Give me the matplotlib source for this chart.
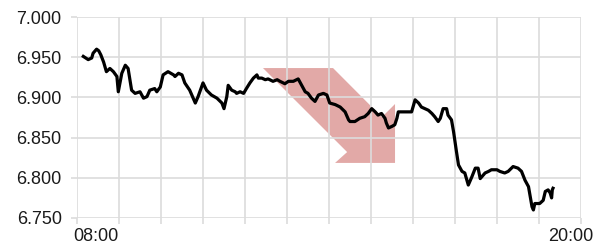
import numpy as np
import matplotlib
matplotlib.use("Agg")
import matplotlib.pyplot as plt
from matplotlib.patches import Polygon

plt.rcParams['font.family'] = ['Liberation Sans', 'DejaVu Sans']

# minutes after 08:00 and price
minutes = [9, 16, 21, 23, 28, 31, 34, 38, 42, 47, 52, 57, 59, 64, 69, 73, 78, 83, 90, 95,
           100, 104, 111, 114, 119, 123, 130, 138, 140, 145, 150, 154, 161, 169, 173, 178, 180,
           185, 192, 200, 207, 210, 214, 216, 221, 226, 228, 233, 238, 242, 247, 252, 257, 259,
           264, 269, 273, 280, 286, 290, 297, 302, 309, 316, 321, 326, 330, 335, 340, 345, 352,
           357, 361, 369, 376, 383, 388, 390, 397, 404, 411, 416, 421, 426, 430, 435, 440, 442,
           445, 450, 454, 457, 459, 466, 478, 483, 488, 492, 497, 502, 507, 511, 516, 519, 523,
           528, 530, 535, 538, 540, 542, 545, 550, 554, 559, 564, 569, 573, 576, 578, 583, 588,
           592, 600, 604, 611, 616, 623, 630, 635, 640, 645, 650, 652, 654, 661, 666, 669, 673,
           676, 678, 679, 680]
price = [6.951, 6.947, 6.949, 6.955, 6.960, 6.958, 6.953, 6.944, 6.932, 6.936, 6.932, 6.926,
         6.907, 6.930, 6.940, 6.936, 6.909, 6.905, 6.907, 6.899, 6.901, 6.909, 6.911, 6.907,
         6.913, 6.928, 6.932, 6.928, 6.926, 6.930, 6.928, 6.918, 6.909, 6.893, 6.901, 6.913,
         6.918, 6.909, 6.903, 6.899, 6.893, 6.886, 6.901, 6.915, 6.909, 6.907, 6.905, 6.907,
         6.905, 6.911, 6.918, 6.924, 6.928, 6.924, 6.924, 6.922, 6.923, 6.920, 6.922, 6.920,
         6.917, 6.920, 6.920, 6.923, 6.915, 6.907, 6.905, 6.899, 6.895, 6.903, 6.905, 6.903,
         6.893, 6.891, 6.888, 6.882, 6.872, 6.870, 6.870, 6.874, 6.876, 6.880, 6.886, 6.882,
         6.878, 6.880, 6.874, 6.868, 6.862, 6.864, 6.866, 6.874, 6.882, 6.882, 6.882, 6.897,
         6.893, 6.888, 6.886, 6.884, 6.880, 6.876, 6.870, 6.874, 6.886, 6.886, 6.878, 6.872,
         6.857, 6.845, 6.833, 6.816, 6.808, 6.806, 6.791, 6.801, 6.812, 6.812, 6.799, 6.801,
         6.806, 6.808, 6.810, 6.810, 6.808, 6.806, 6.808, 6.814, 6.812, 6.808, 6.797, 6.789,
         6.764, 6.760, 6.768, 6.768, 6.772, 6.783, 6.785, 6.781, 6.775, 6.785, 6.787]

y_ticks = [6.75, 6.80, 6.85, 6.90, 6.95, 7.00]
hours = np.arange(8, 21)

t = 8 + np.array(minutes) / 60.0

fig = plt.figure(figsize=(5.93, 2.46), dpi=100)
ax = fig.add_axes([77 / 593, 28 / 246, 504 / 593, 201 / 246])

# down arrow, axes fraction
arrow = Polygon([(0.369, 0.746), (0.508, 0.746), (0.605, 0.502), (0.631, 0.567),
                 (0.631, 0.274), (0.512, 0.274), (0.536, 0.328)],
                closed=True, transform=ax.transAxes, facecolor='#e2a9a7',
                edgecolor='none', zorder=0.5)
ax.add_patch(arrow)

ax.plot(t, price, color='black', lw=2.3, zorder=3)

ax.set_xlim(8, 20)
ax.set_ylim(6.75, 7.0)
ax.set_xticks(hours)
ax.set_xticklabels([])
ax.set_yticks(y_ticks)
ax.set_yticklabels(['%.3f' % v for v in y_ticks], fontsize=13, color='#1a1a1a')
ax.grid(True, color='#dcdcdc', lw=1.2, zorder=1)
ax.tick_params(axis='both', length=4, width=1.2, color='#dcdcdc', pad=7)
for s in ax.spines.values():
    s.set_visible(False)

ax.annotate('08:00', xy=(8, 0), xycoords=('data', 'axes fraction'),
            xytext=(-4, -10), textcoords='offset pixels', ha='left', va='top',
            fontsize=13, color='#1a1a1a')
ax.annotate('20:00', xy=(20, 0), xycoords=('data', 'axes fraction'),
            xytext=(-33, -10), textcoords='offset pixels', ha='left', va='top',
            fontsize=13, color='#1a1a1a', annotation_clip=False)

fig.savefig('out.png', dpi=100)
